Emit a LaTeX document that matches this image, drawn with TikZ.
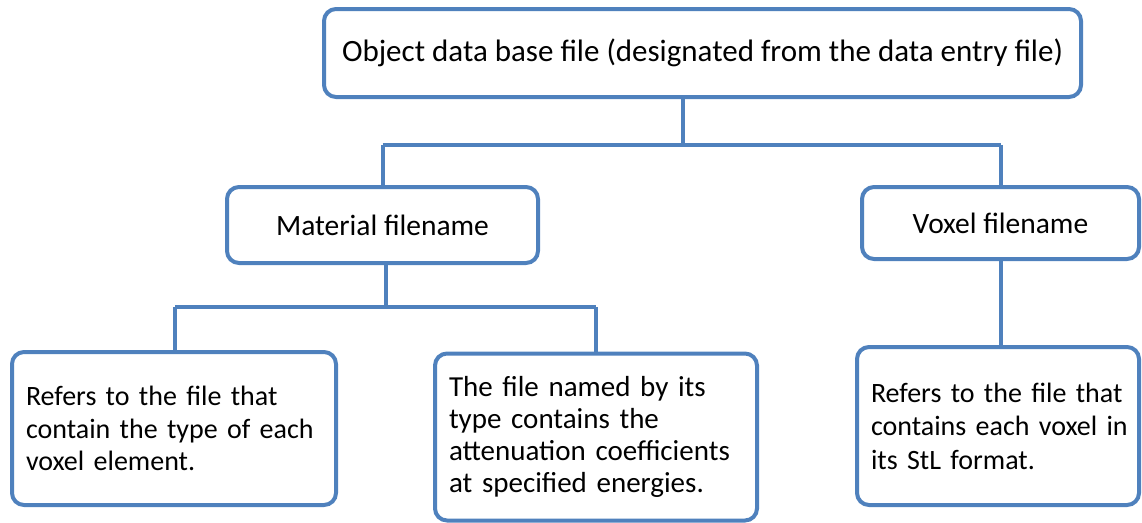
\documentclass[tikz,border=0pt]{standalone}
\usepackage{fontspec}
\setmainfont{Carlito}
\definecolor{boxblue}{HTML}{4F81BD}
\begin{document}
\begin{tikzpicture}[x=1pt,y=-1pt,
  box/.style={draw=boxblue, line width=4pt, rounded corners=12pt, fill=white,
    inner sep=0pt, font=\fontsize{29.5}{32.5}\selectfont},
  textbox/.style={box, align=left, inner xsep=14pt},
  conn/.style={draw=boxblue, line width=4pt}]
\useasboundingbox (0,0) rectangle (1142,522);
% connectors
\coordinate (j1) at (683,145);
\coordinate (j2) at (386,307);
\coordinate (l2) at (175,307);
\node[box, minimum width=757pt, minimum height=88pt, font=\fontsize{31}{34}\selectfont] (top) at (702.5,53)
  {Object data base file (designated from the data entry file)};
\node[box, minimum width=311pt, minimum height=76pt] (mat) at (382.5,225) {Material filename};
\node[box, minimum width=277pt, minimum height=72pt] (vox) at (1000.5,223) {Voxel filename};
\node[textbox, minimum width=324pt, minimum height=153pt, text width=296pt, font=\fontsize{28}{32.5}\selectfont] (left) at (174,428.5)
  {Refers to the file that\\contain the type of each\\voxel element.};
\node[textbox, minimum width=322pt, minimum height=167pt, text width=294pt, font=\fontsize{29}{32}\selectfont] (mid) at (596,437)
  {The file named by its\\type contains the\\attenuation coefficients\\at specified energies.};
\node[textbox, minimum width=282pt, minimum height=158pt, text width=254pt, font=\fontsize{28}{33.5}\selectfont] (right) at (998,426)
  {Refers to the file that\\\mbox{contains each voxel in}\\its StL format.};
\draw[conn] (top.south -| j1) -- (j1);
\draw[conn] (mat.north |- j1) -- (vox.north |- j1);
\draw[conn] (mat.north |- j1) -- (mat.north);
\draw[conn] (vox.north |- j1) -- (vox.north);
\draw[conn] (mat.south -| j2) -- (j2);
\draw[conn] (l2) -- (mid.north |- l2);
\draw[conn] (l2) -- (l2 |- left.north);
\draw[conn] (mid.north |- l2) -- (mid.north);
\draw[conn] (vox.south) -- (vox.south |- right.north);
\end{tikzpicture}
\end{document}
